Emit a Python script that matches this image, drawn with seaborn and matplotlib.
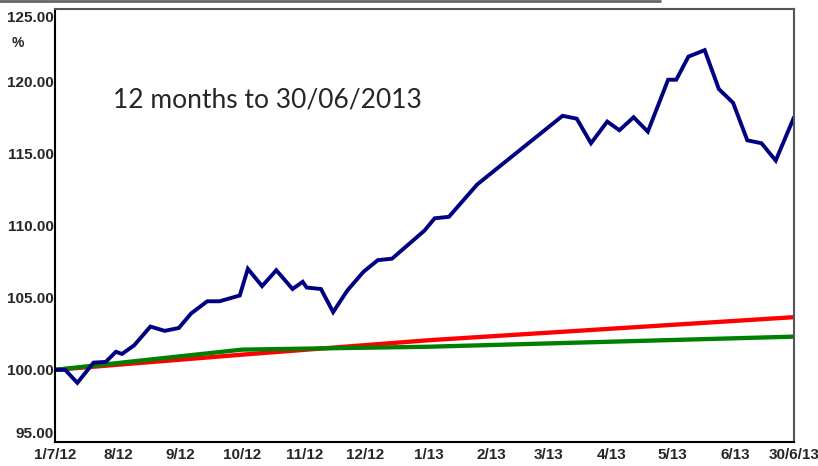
import pandas as pd
import matplotlib.pyplot as plt
from matplotlib.lines import Line2D
from matplotlib.transforms import ScaledTranslation
import seaborn as sns

# fund (blue) - weekly-ish readings
fund_dates = ['2012-07-01', '2012-07-06', '2012-07-12', '2012-07-20', '2012-07-26', '2012-07-31',
              '2012-08-03', '2012-08-09', '2012-08-17', '2012-08-24', '2012-08-31', '2012-09-06',
              '2012-09-14', '2012-09-20', '2012-09-30', '2012-10-04', '2012-10-11', '2012-10-18',
              '2012-10-26', '2012-10-31', '2012-11-02', '2012-11-09', '2012-11-15', '2012-11-22',
              '2012-11-30', '2012-12-07', '2012-12-14', '2012-12-30', '2013-01-04', '2013-01-11',
              '2013-01-25', '2013-03-08', '2013-03-15', '2013-03-22', '2013-03-30', '2013-04-05',
              '2013-04-12', '2013-04-19', '2013-04-29', '2013-05-03', '2013-05-09', '2013-05-17',
              '2013-05-24', '2013-05-31', '2013-06-07', '2013-06-14', '2013-06-21', '2013-06-30']
fund_values = [100.0, 100.0, 99.1, 100.5, 100.55, 101.25,
               101.1, 101.7, 103.0, 102.7, 102.9, 103.9,
               104.75, 104.75, 105.15, 107.0, 105.8, 106.9,
               105.6, 106.1, 105.7, 105.6, 104.0, 105.5,
               106.8, 107.6, 107.7, 109.65, 110.5, 110.6,
               112.85, 117.6, 117.4, 115.7, 117.2, 116.6,
               117.5, 116.5, 120.1, 120.1, 121.7, 122.15,
               119.45, 118.5, 115.9, 115.7, 114.5, 117.5]

# benchmark lines
red_dates = ['2012-07-01', '2012-10-01', '2013-01-01', '2013-04-01', '2013-06-30']
red_values = [100.0, 101.05, 102.05, 102.85, 103.65]
green_dates = ['2012-07-01', '2012-10-01', '2013-01-01', '2013-04-01', '2013-06-30']
green_values = [100.0, 101.4, 101.6, 101.95, 102.3]

tick_dates = ['2012-07-01', '2012-08-01', '2012-09-01', '2012-10-01', '2012-11-01', '2012-12-01',
              '2013-01-01', '2013-02-01', '2013-03-01', '2013-04-01', '2013-05-01', '2013-06-01',
              '2013-06-30']
tick_labels = ['1/7/12', '8/12', '9/12', '10/12', '11/12', '12/12', '1/13', '2/13', '3/13',
               '4/13', '5/13', '6/13', '30/6/13']
y_ticks = [95, 100, 105, 110, 115, 120, 125]

df = pd.concat([
    pd.DataFrame({'date': pd.to_datetime(red_dates), 'value': red_values, 'series': 'red'}),
    pd.DataFrame({'date': pd.to_datetime(green_dates), 'value': green_values, 'series': 'green'}),
    pd.DataFrame({'date': pd.to_datetime(fund_dates), 'value': fund_values, 'series': 'fund'}),
])
palette = {'fund': '#000080', 'red': '#ff0000', 'green': '#008000'}

sns.set_style('white')
plt.rcParams['font.family'] = ['Liberation Sans', 'DejaVu Sans']

fig = plt.figure(figsize=(8.18, 4.66), dpi=100)
ax = fig.add_axes([55 / 818, 24 / 466, 739 / 818, 433 / 466])

for name, lw in [('red', 3.1), ('green', 3.1), ('fund', 2.8)]:
    sns.lineplot(data=df[df['series'] == name], x='date', y='value', color=palette[name],
                 linewidth=lw, ax=ax, legend=False, solid_joinstyle='miter')

ax.set_xlim(pd.Timestamp('2012-07-01'), pd.Timestamp('2013-06-30'))
ax.set_ylim(95, 125)
ax.set_xlabel('')
ax.set_ylabel('')

ax.set_xticks(pd.to_datetime(tick_dates))
ax.set_xticklabels(tick_labels, fontsize=11, fontweight='bold')
ax.set_yticks(y_ticks)
ax.set_yticklabels([f'{v:.2f}' for v in y_ticks], fontsize=11, fontweight='bold')
ax.tick_params(axis='both', direction='in', length=6, width=2.2, color='black', pad=4)
ax.tick_params(axis='y', pad=1)

# the end ticks have no marks; 125 and 95 labels sit inside the frame
for t in [ax.xaxis.get_major_ticks()[0], ax.xaxis.get_major_ticks()[-1]]:
    t.tick1line.set_visible(False)
yt = ax.yaxis.get_major_ticks()
for t, dy in [(yt[0], 9), (yt[-1], -8)]:
    t.tick1line.set_visible(False)
    t.label1.set_transform(t.label1.get_transform() + ScaledTranslation(0, dy / 100, fig.dpi_scale_trans))

for side in ['left', 'bottom']:
    ax.spines[side].set_color('black')
    ax.spines[side].set_linewidth(1.5)
for side in ['top', 'right']:
    ax.spines[side].set_color('#555555')
    ax.spines[side].set_linewidth(1.5)

fig.text(18 / 818, 1 - 43 / 466, '%', fontsize=10, fontweight='bold', ha='center', va='center')
ax.text(0.078, 0.79, '12 months to 30/06/2013', transform=ax.transAxes, fontsize=19,
        family=['Lato', 'DejaVu Sans'], ha='left', va='center')

fig.add_artist(Line2D([0, 660 / 818], [1 - 1 / 466, 1 - 1 / 466], color='#666666', linewidth=2))

fig.savefig('out.png', dpi=100)
